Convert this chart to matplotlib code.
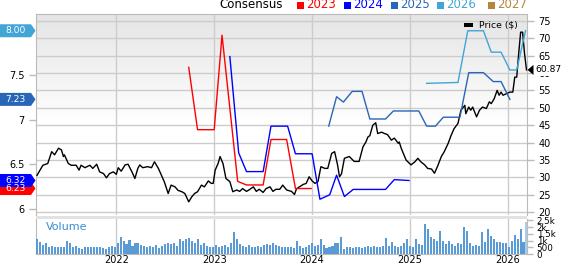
import numpy as np
import matplotlib.pyplot as plt
from matplotlib.patches import Polygon, Rectangle

W, H = 568, 264

# price ($), x in decimal years
price_t = [2021.19, 2021.25, 2021.30, 2021.34, 2021.37, 2021.41, 2021.44, 2021.46, 2021.47, 2021.51,
           2021.54, 2021.59, 2021.62, 2021.64, 2021.68, 2021.73, 2021.76, 2021.80, 2021.83, 2021.87,
           2021.90, 2021.93, 2021.97,
           2022.00, 2022.02, 2022.05, 2022.09, 2022.12, 2022.16, 2022.19, 2022.22, 2022.24, 2022.27,
           2022.32, 2022.36, 2022.39, 2022.43, 2022.46, 2022.49, 2022.53, 2022.56, 2022.60, 2022.63,
           2022.67, 2022.70, 2022.74, 2022.77, 2022.80, 2022.83, 2022.87, 2022.90, 2022.94, 2022.97,
           2022.99,
           2023.01, 2023.04, 2023.06, 2023.09, 2023.12, 2023.16, 2023.19, 2023.23, 2023.26, 2023.29,
           2023.33, 2023.36, 2023.40, 2023.43, 2023.46, 2023.50, 2023.53, 2023.57, 2023.60, 2023.63,
           2023.67, 2023.70, 2023.74, 2023.79, 2023.82, 2023.84, 2023.87, 2023.91, 2023.94, 2023.97,
           2024.00, 2024.03, 2024.06, 2024.09, 2024.13, 2024.16, 2024.20, 2024.23, 2024.26, 2024.28,
           2024.30, 2024.33, 2024.38, 2024.43, 2024.48, 2024.52, 2024.55, 2024.57, 2024.59, 2024.62,
           2024.65, 2024.67, 2024.71, 2024.74, 2024.77, 2024.81, 2024.84, 2024.88, 2024.89, 2024.91,
           2024.96,
           2025.01, 2025.05, 2025.08, 2025.11, 2025.15, 2025.18, 2025.22, 2025.25, 2025.28, 2025.32,
           2025.35, 2025.39, 2025.42, 2025.45, 2025.49, 2025.52, 2025.56, 2025.57, 2025.60, 2025.62,
           2025.64, 2025.68, 2025.71, 2025.74, 2025.78, 2025.81, 2025.83, 2025.86, 2025.89, 2025.91,
           2025.93, 2025.95, 2025.98,
           2026.02, 2026.05, 2026.07, 2026.09, 2026.11, 2026.13, 2026.15, 2026.17, 2026.19]
price = [30.6, 33.5, 34.0, 37.4, 36.5, 38.4, 37.9, 36.0, 36.5, 34.0,
         33.5, 33.5, 32.1, 33.5, 32.8, 33.5, 32.6, 33.8, 31.6, 31.1,
         29.9, 31.1, 31.6,
         30.9, 32.8, 31.8, 33.6, 33.8, 31.6, 29.7, 32.6, 33.6, 32.8,
         33.1, 32.8, 34.5, 32.6, 30.7, 28.8, 25.4, 27.8, 27.3, 26.3,
         25.9, 25.4, 23.0, 24.4, 25.4, 25.9, 27.8, 27.3, 29.0, 28.3,
         28.3,
         32.1, 34.0, 36.0, 34.0, 29.7, 28.8, 25.9, 26.4, 26.0, 26.8,
         26.0, 26.5, 27.3, 26.0, 26.6, 25.7, 26.8, 27.3, 26.0, 26.6,
         26.6, 27.8, 26.4, 26.0, 25.1, 26.7, 27.3, 28.0, 28.3, 30.2,
         29.0, 28.3, 28.8, 33.1, 32.6, 32.6, 36.9, 37.4, 33.6, 30.2,
         31.0, 35.5, 36.0, 34.6, 34.6, 38.8, 40.2, 41.6, 42.0, 45.0,
         45.7, 42.6, 43.0, 42.6, 42.3, 40.7, 41.3, 39.8, 40.2, 38.4,
         35.0,
         33.6, 34.5, 35.5, 34.5, 33.6, 32.6, 32.4, 31.2, 33.1, 36.0,
         37.4, 39.8, 42.1, 44.0, 45.5, 49.3, 50.7, 48.3, 50.2, 49.3,
         50.2, 47.4, 49.3, 50.2, 49.8, 51.7, 51.2, 52.6, 55.0, 53.6,
         54.5, 53.6, 54.0,
         54.5, 54.5, 58.8, 58.8, 65.5, 71.7, 71.7, 65.5, 60.87]

# consensus EPS estimates by fiscal year
eps23_t = [2022.74, 2022.83, 2023.00, 2023.08, 2023.24, 2023.33, 2023.50, 2023.58, 2023.74, 2023.83, 2023.99]
eps23 = [7.59, 6.89, 6.89, 7.95, 6.31, 6.27, 6.27, 6.78, 6.78, 6.23, 6.23]

eps24_t = [2023.16, 2023.25, 2023.33, 2023.50, 2023.58, 2023.75, 2023.83, 2024.00,
           2024.08, 2024.18, 2024.25, 2024.33, 2024.42, 2024.75, 2024.84, 2024.99]
eps24 = [7.71, 6.63, 6.42, 6.42, 6.93, 6.93, 6.62, 6.62,
         6.11, 6.16, 6.38, 6.14, 6.22, 6.22, 6.33, 6.32]

eps25_t = [2024.17, 2024.25, 2024.32, 2024.41, 2024.51, 2024.59, 2024.75, 2024.83, 2025.09,
           2025.17, 2025.26, 2025.34, 2025.51, 2025.60, 2025.75, 2025.85, 2025.93, 2026.02]
eps25 = [6.93, 7.26, 7.20, 7.32, 7.32, 7.01, 7.01, 7.10, 7.10,
         6.93, 6.93, 7.03, 7.03, 7.53, 7.53, 7.43, 7.43, 7.23]

eps26_t = [2025.17, 2025.49, 2025.59, 2025.75, 2025.83, 2025.93, 2026.02, 2026.09, 2026.18]
eps26 = [7.41, 7.42, 8.00, 8.00, 7.76, 7.76, 7.56, 7.56, 8.00]

# volume (thousands), roughly weekly from 2021.19 to 2026.19
volume = [1.1, 0.9, 0.65, 0.85, 0.55, 0.6, 0.5, 0.55, 0.55, 0.5,
          0.95, 0.85, 0.55, 0.6, 0.45, 0.4, 0.55, 0.5, 0.55, 0.5,
          0.5, 0.55, 0.45, 0.4, 0.5, 0.6, 0.55, 0.8, 1.25, 0.95,
          0.75, 1.05, 0.6, 0.85, 0.8, 0.7, 0.6, 0.55, 0.6, 0.55,
          0.65, 0.45, 0.6, 0.75, 0.85, 0.75, 0.8, 0.6, 1.1, 0.95,
          1.1, 1.2, 1.0, 0.85, 1.1, 0.65, 0.85, 0.6, 0.55, 0.5,
          0.7, 0.5, 0.6, 0.65, 0.55, 0.85, 1.6, 1.1, 0.75, 0.6,
          0.55, 0.65, 0.5, 0.55, 0.6, 0.5, 0.7, 0.75, 0.65, 0.8,
          0.7, 0.6, 0.5,
          0.5, 0.55, 0.5, 0.45, 1.0, 0.6, 0.45, 0.5, 0.7, 0.85,
          0.6, 0.65, 1.1, 0.7, 0.45, 0.5, 0.6, 0.85, 0.8, 1.25,
          0.4, 0.5, 0.5, 0.45, 0.5, 0.5, 0.45, 0.55, 0.6, 0.5,
          0.6, 0.5, 0.55, 0.6, 1.2, 0.6, 0.9, 0.6, 0.5, 0.6,
          0.85, 1.15, 0.6, 0.55, 1.1, 0.75, 0.7, 2.2, 1.85, 1.25,
          1.1, 1.0, 1.7, 0.95, 0.75, 1.0, 0.75, 0.6, 0.85, 0.75,
          2.0, 1.7, 0.8, 0.6, 0.65, 0.6, 1.6, 0.9, 1.85, 1.35,
          1.1, 0.9, 0.9, 0.85, 0.85, 0.5, 1.0, 1.4, 1.15, 1.85,
          0.9, 2.4]
vol_start, vol_end = 2021.19, 2026.19

years = [2022, 2023, 2024, 2025, 2026]
legend_years = ['2023', '2024', '2025', '2026', '2027']
legend_colors = ['#ff0000', '#0000ff', '#2a66b8', '#42a5d6', '#b8843c']

price_ticks = [20, 25, 30, 35, 40, 45, 50, 55, 60, 65, 70, 75]
eps_ticks = [6, 6.5, 7, 7.5]
eps_labels = ['6', '6.5', '7', '7.5']
vol_ticks = [0, 0.5, 1, 1.5, 2, 2.5]
vol_labels = ['0', '500', '1k', '1.5k', '2k', '2.5k']

grid_c = '#cccccc'
spine_c = '#bbbbbb'

fig = plt.figure(figsize=(W / 100, H / 100), dpi=100)
ax = fig.add_axes([36 / W, 1 - 215 / H, 491 / W, 201 / H])
axv = fig.add_axes([36 / W, 1 - 254 / H, 491 / W, 35 / H], sharex=ax)

# background fade at top of the price pane (grey at top, white below)
s = np.clip((1 - np.linspace(0, 1, 200)) / 0.55, 0, 1)  # row 0 = bottom
shade = 1 - (1 - 0.898) * (1 - s)
fade = np.repeat(shade[:, None, None], 3, axis=2)
ax.imshow(fade, extent=[0, 1, 0, 1], transform=ax.transAxes, aspect='auto', zorder=0, origin='lower')

ax.set_xlim(2021.18, 2026.195)
ax.set_ylim(19.22, 76.92)
ax.set_yticks(price_ticks)
ax.grid(True, color=grid_c, lw=1)
ax.set_axisbelow(True)
ax.plot(price_t, price, color='black', lw=1, zorder=3)
ax.set_xticks(years)
for sp in ax.spines.values():
    sp.set_color(spine_c)
ax.spines['bottom'].set_visible(False)

axe = ax.twinx()
ax.yaxis.tick_right()
ax.tick_params(axis='y', length=5, width=1, color=spine_c, pad=3, labelsize=7)
ax.tick_params(axis='x', length=0, labelbottom=False)
axe.yaxis.tick_left()
axe.set_ylim(5.933, 8.188)
axe.set_yticks(eps_ticks)
axe.set_yticklabels(eps_labels)
axe.tick_params(axis='y', length=5, width=1, color=spine_c, pad=3, labelsize=7)
for sp in axe.spines.values():
    sp.set_visible(False)
axe.plot(eps23_t, eps23, color=legend_colors[0], lw=1)
axe.plot(eps24_t, eps24, color=legend_colors[1], lw=1)
axe.plot(eps25_t, eps25, color=legend_colors[2], lw=1)
axe.plot(eps26_t, eps26, color=legend_colors[3], lw=1)

# volume pane
bar_x = np.linspace(vol_start, vol_end, len(volume))
bar_c = ['#5b9bd5'] * (len(volume) - 1) + ['#a8cbea']
axv.bar(bar_x, volume, width=0.021, color=bar_c, zorder=3)
axv.set_ylim(0, 2.6)
axv.set_yticks(vol_ticks)
axv.set_yticklabels(vol_labels)
axv.yaxis.tick_right()
axv.tick_params(axis='y', length=4, width=1, color=spine_c, pad=3, labelsize=6.3)
axv.set_xticks(years)
axv.set_xticklabels([str(y) for y in years])
axv.tick_params(axis='x', length=0, pad=0.5, labelsize=7)
axv.grid(True, axis='x', color=grid_c, lw=1)
axv.set_axisbelow(True)
for sp in axv.spines.values():
    sp.set_color(spine_c)
axv.spines['top'].set_visible(False)
axv.text(0.02, 0.78, 'Volume', transform=axv.transAxes, color='#3a8ccc', fontsize=8, va='center')

# band between panes
fig.patches.append(Rectangle((36 / W, 1 - 219 / H), 491 / W, 3 / H, transform=fig.transFigure,
                             facecolor='#e2e2e2', edgecolor='none'))

# top legend
fig.text(283 / W, 1 - 5 / H, 'Consensus', ha='right', va='center', fontsize=8.5)
sq_x = [297, 344, 391, 437, 488]
for x0, lab, c in zip(sq_x, legend_years, legend_colors):
    fig.patches.append(Rectangle((x0 / W, 1 - 8.5 / H), 7 / W, 7 / H, transform=fig.transFigure,
                                 facecolor=c, edgecolor='none'))
    fig.text((x0 + 9) / W, 1 - 5 / H, lab, color=c, ha='left', va='center', fontsize=8.5)

# price legend
fig.patches.append(Rectangle((464 / W, 1 - 27 / H), 9 / W, 4 / H, transform=fig.transFigure,
                             facecolor='black', edgecolor='none'))
fig.text(479 / W, 1 - 25 / H, 'Price ($)', ha='left', va='center', fontsize=6.7)


def to_fig_y(axis, v):
    return fig.transFigure.inverted().transform(axis.transData.transform((2024, v)))[1]


def left_badge(v, text, color):
    y = to_fig_y(axe, v) * H
    pts = [(0, y - 6.5), (31, y - 6.5), (35.5, y), (31, y + 6.5), (0, y + 6.5)]
    fig.patches.append(Polygon([(px / W, py / H) for px, py in pts], closed=True,
                               transform=fig.transFigure, facecolor=color, edgecolor='none'))
    fig.text(15.5 / W, y / H, text, color='white', ha='center', va='center', fontsize=6.6)


left_badge(8.00, '8.00', legend_colors[3])
left_badge(7.23, '7.23', legend_colors[2])
left_badge(6.23, '6.23', legend_colors[0])
left_badge(6.32, '6.32', legend_colors[1])

# last price marker, drawn over the right tick labels
yl = to_fig_y(ax, price[-1]) * H
fig.patches.append(Rectangle((533 / W, (yl - 6.5) / H), 35 / W, 13 / H, transform=fig.transFigure,
                             facecolor='white', edgecolor='none', zorder=5))
fig.patches.append(Polygon([(527.5 / W, yl / H), (533.5 / W, (yl + 5) / H), (533.5 / W, (yl - 5) / H)],
                           closed=True, transform=fig.transFigure, facecolor='black', edgecolor='none',
                           zorder=5))
fig.text(535 / W, yl / H, f'{price[-1]:.2f}', ha='left', va='center', fontsize=6.6, zorder=6)

fig.savefig('out.png', dpi=100)
